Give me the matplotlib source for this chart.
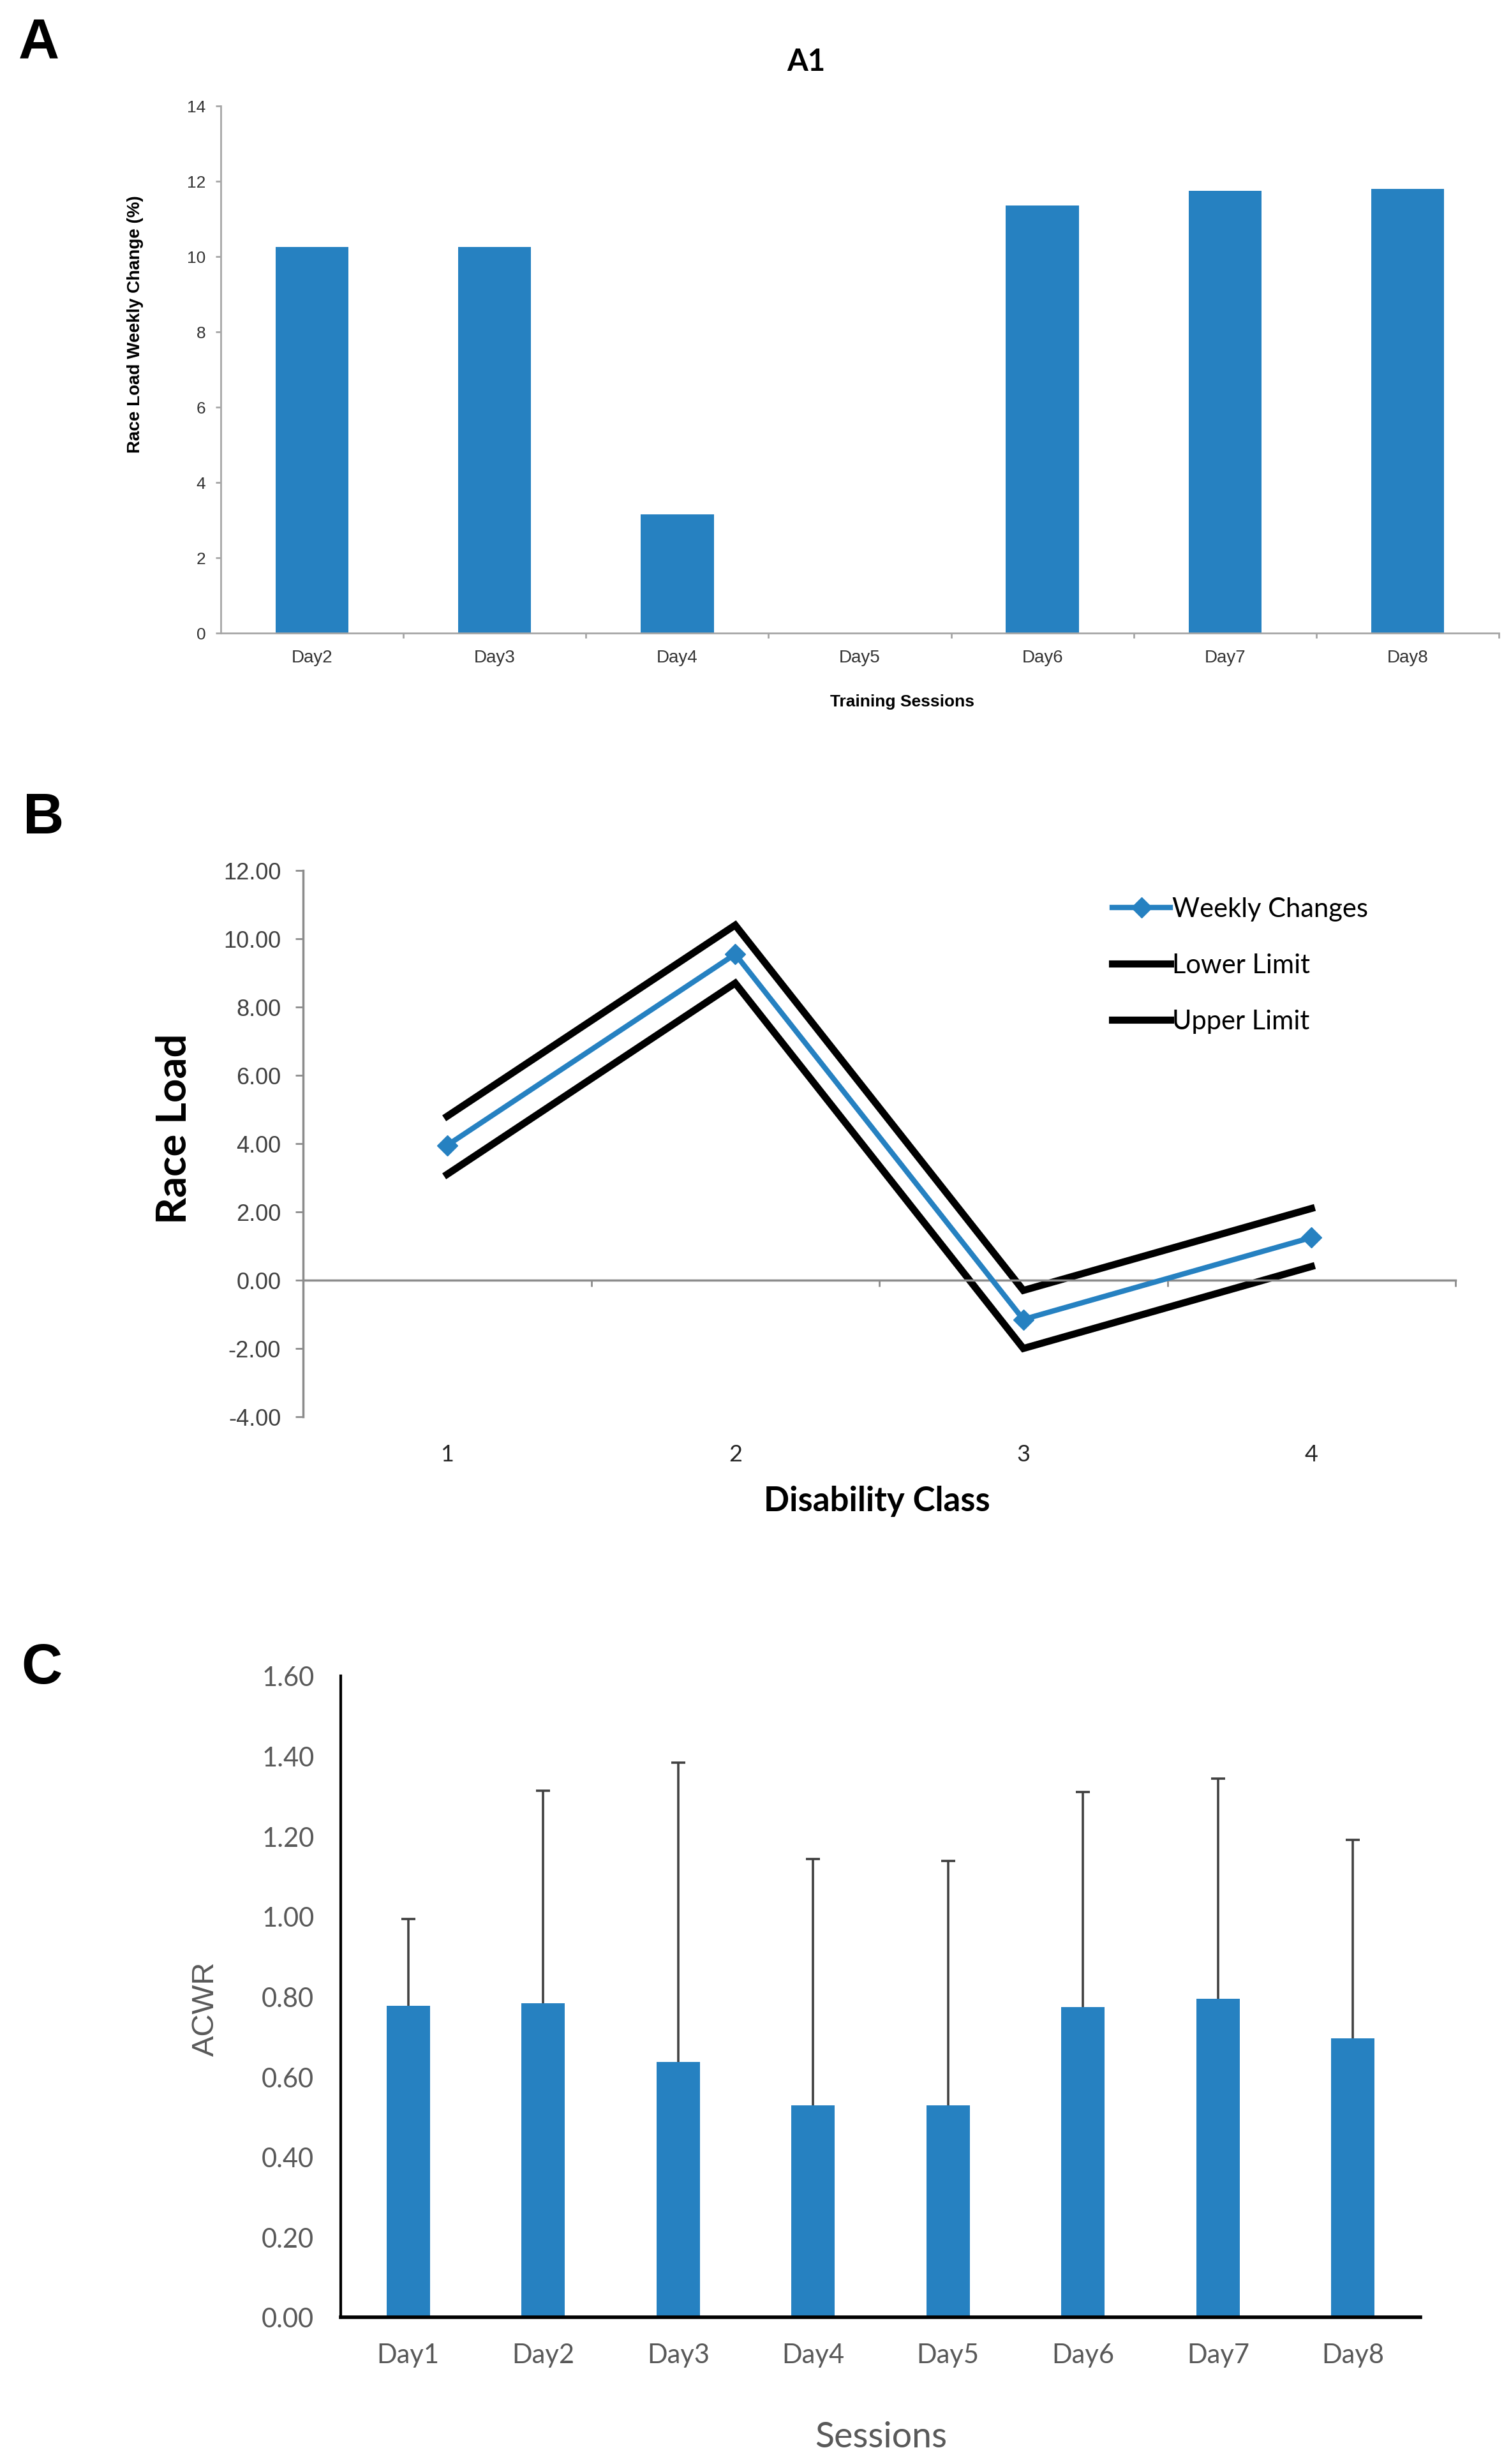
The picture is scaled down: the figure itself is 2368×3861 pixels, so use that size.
import matplotlib
matplotlib.use('Agg')
import matplotlib.pyplot as plt
import numpy as np

# ---- data ----
# panel A: race load weekly change (%)
a_days = ['Day2', 'Day3', 'Day4', 'Day5', 'Day6', 'Day7', 'Day8']
a_change = [10.25, 10.25, 3.15, 0.0, 11.35, 11.75, 11.8]

# panel B: race load by disability class
b_class = [1, 2, 3, 4]
b_weekly = [3.95, 9.55, -1.15, 1.25]
b_lower = [3.1, 8.7, -2.0, 0.4]
b_upper = [4.8, 10.4, -0.3, 2.1]

# panel C: ACWR mean and upper SD
c_days = ['Day1', 'Day2', 'Day3', 'Day4', 'Day5', 'Day6', 'Day7', 'Day8']
c_acwr = [0.777, 0.783, 0.637, 0.528, 0.528, 0.774, 0.794, 0.696]
c_sd = [0.217, 0.531, 0.746, 0.615, 0.610, 0.537, 0.550, 0.495]

W, H, DPI = 2368, 3862, 100
BLUE = '#2681C1'
ARIAL = ['Liberation Sans', 'DejaVu Sans']
CALIBRI = ['Lato', 'DejaVu Sans']

fig = plt.figure(figsize=(W / DPI, H / DPI), dpi=DPI)


def px_axes(x0, y0, x1, y1):
    # axes from pixel box (top-left origin)
    return fig.add_axes([x0 / W, 1 - y1 / H, (x1 - x0) / W, (y1 - y0) / H])


# ================= A =================
ax = px_axes(346, 167, 2349, 993)
xa = np.arange(len(a_days))
ax.bar(xa, a_change, width=0.4, color=BLUE, zorder=2)
ax.set_xlim(-0.5, len(a_days) - 0.5)
ax.set_ylim(0, 14)
ax.set_yticks(np.arange(0, 15, 2))
ax.set_xticks(xa)
ax.set_xticklabels(a_days)
ax.set_xticks(np.arange(0.5, len(a_days), 1), minor=True)
for s in ['top', 'right']:
    ax.spines[s].set_visible(False)
for s in ['left', 'bottom']:
    ax.spines[s].set_color('#A6A6A6')
    ax.spines[s].set_linewidth(2)
ax.tick_params(axis='x', which='major', length=0, pad=18,
               labelsize=20, labelcolor='#333333')
ax.tick_params(axis='x', which='minor', length=6, width=2, color='#A6A6A6')
ax.tick_params(axis='y', length=6, width=2, color='#A6A6A6', pad=11,
               labelsize=19, labelcolor='#333333')
for t in ax.get_xticklabels() + ax.get_yticklabels():
    t.set_family(ARIAL)
ax.set_ylabel('Race Load Weekly Change (%)', fontsize=20, fontweight='bold',
              family=ARIAL)
ax.yaxis.label.set_va('center')
ax.yaxis.set_label_coords(-0.0669, 0.587)
ax.set_xlabel('Training Sessions', fontsize=19, fontweight='bold', family=ARIAL)
ax.xaxis.label.set_va('center')
ax.xaxis.set_label_coords(0.533, -0.1295)
ax.set_title('A1', fontsize=34, fontweight='bold', family=CALIBRI,
             x=0.458, y=1.075, va='center')

# ================= B =================
ax = px_axes(475, 1365, 2281, 2221)
l_low, = ax.plot(b_class, b_lower, color='black', lw=8,
                 solid_joinstyle='miter', zorder=2)
l_up, = ax.plot(b_class, b_upper, color='black', lw=8,
                solid_joinstyle='miter', zorder=2)
l_wk, = ax.plot(b_class, b_weekly, color=BLUE, lw=6, marker='D',
                markersize=16, solid_joinstyle='miter', zorder=3)
ax.set_xlim(0.5, 4.5)
ax.set_ylim(-4, 12)
ax.set_yticks(np.arange(-4, 13, 2))
ax.set_yticklabels(['%.2f' % v for v in np.arange(-4, 13, 2)])
ax.set_xticks(b_class)
ax.set_xticks(np.arange(1.5, 4.6, 1), minor=True)
ax.spines['right'].set_visible(False)
ax.spines['bottom'].set_visible(False)
ax.spines['top'].set_position(('data', 0))
for s in ['left', 'top']:
    ax.spines[s].set_color('#8C8C8C')
    ax.spines[s].set_linewidth(2.5)
ax.tick_params(axis='x', which='major', length=0, pad=30,
               labelsize=26, labelcolor='#262626')
ax.tick_params(axis='x', which='minor', top=True, bottom=False,
               direction='in', length=7, width=2, color='#8C8C8C')
ax.tick_params(axis='y', length=8.6, width=2, color='#8C8C8C', pad=16.5,
               labelsize=26, labelcolor='#404040')
for t in ax.get_xticklabels():
    t.set_family(CALIBRI)
for t in ax.get_yticklabels():
    t.set_family(ARIAL)
ax.set_ylabel('Race Load', fontsize=47, fontweight='bold', family=CALIBRI)
ax.yaxis.label.set_va('center')
ax.yaxis.set_label_coords(-0.1118, 0.528)
ax.set_xlabel('Disability Class', fontsize=38, fontweight='bold',
              family=CALIBRI)
ax.xaxis.label.set_va('center')
ax.xaxis.set_label_coords(0.498, -0.154)
ax.legend([l_wk, l_low, l_up], ['Weekly Changes', 'Lower Limit', 'Upper Limit'],
          loc='upper left', bbox_to_anchor=(0.702, 0.952), frameon=False,
          borderpad=0, borderaxespad=0, handlelength=2.2, handletextpad=0.07,
          labelspacing=1.2, prop={'family': CALIBRI, 'size': 30})

# ================= C =================
ax = px_axes(534, 2627, 2226, 3632)
xc = np.arange(len(c_days))
bars = ax.bar(xc, c_acwr, width=0.32, color=BLUE, zorder=2,
              yerr=[np.zeros(len(c_sd)), c_sd],
              error_kw=dict(ecolor='#404040', elinewidth=2.6, capsize=8,
                            capthick=2.6, zorder=3))
# only the upper cap is drawn in the original
bars.errorbar.lines[1][0].set_visible(False)
ax.set_xlim(-0.5, len(c_days) - 0.5)
ax.set_ylim(0, 1.6)
ax.set_yticks(np.arange(0, 1.61, 0.2))
ax.set_yticklabels(['%.2f' % v for v in np.arange(0, 1.61, 0.2)])
ax.set_xticks(xc)
ax.set_xticklabels(c_days)
for s in ['top', 'right']:
    ax.spines[s].set_visible(False)
ax.spines['left'].set_linewidth(3)
ax.spines['bottom'].set_linewidth(4)
ax.spines['left'].set_color('black')
ax.spines['bottom'].set_color('black')
ax.tick_params(axis='x', length=0, pad=29, labelsize=30, labelcolor='#595959')
ax.tick_params(axis='y', length=0, pad=30, labelsize=30, labelcolor='#595959')
for t in ax.get_xticklabels() + ax.get_yticklabels():
    t.set_family(CALIBRI)
ax.set_ylabel('ACWR', fontsize=35, color='#595959', family=ARIAL)
ax.yaxis.label.set_va('center')
ax.yaxis.set_label_coords(-0.1253, 0.4816)
ax.set_xlabel('Sessions', fontsize=40, color='#595959', family=CALIBRI)
ax.xaxis.label.set_va('center')
ax.xaxis.set_label_coords(0.5006, -0.187)

# panel letters
for letter, (px, py) in zip('ABC', [(61, 69), (68, 1283), (65, 2615)]):
    fig.text(px / W, 1 - py / H, letter, fontsize=64, fontweight='bold',
             family=ARIAL, ha='center', va='center')

fig.savefig('out.png', dpi=DPI)
